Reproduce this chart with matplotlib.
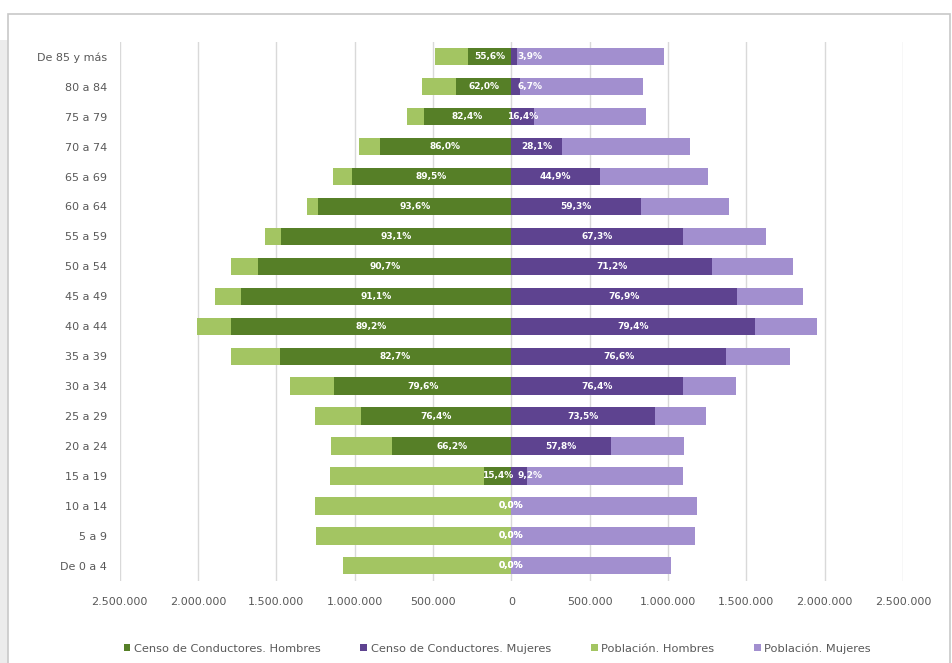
import matplotlib.pyplot as plt
from matplotlib.patches import Rectangle
from matplotlib.ticker import FuncFormatter


# Age groups, top to bottom as in the chart
grupos = [
    "De 85 y más", "80 a 84", "75 a 79", "70 a 74", "65 a 69", "60 a 64",
    "55 a 59", "50 a 54", "45 a 49", "40 a 44", "35 a 39", "30 a 34",
    "25 a 29", "20 a 24", "15 a 19", "10 a 14", "5 a 9", "De 0 a 4"
]

# Values (persons)
poblacion_hombres = [488000, 570000, 667000, 973000, 1140000, 1306000,
                     1570000, 1787000, 1891000, 2004000, 1787000, 1411000,
                     1252000, 1151000, 1155000, 1252000, 1248000, 1074000]
conductores_hombres = [279000, 353000, 558000, 841000, 1019000, 1233000,
                       1469000, 1616000, 1725000, 1791000, 1477000, 1132000,
                       957000, 760000, 174000, 0, 0, 0]
poblacion_mujeres = [973000, 841000, 857000, 1143000, 1256000, 1391000,
                     1624000, 1798000, 1864000, 1953000, 1779000, 1434000,
                     1240000, 1105000, 1097000, 1186000, 1171000, 1019000]
conductores_mujeres = [38000, 57000, 147000, 322000, 566000, 826000,
                       1093000, 1283000, 1438000, 1558000, 1368000, 1097000,
                       915000, 636000, 101000, 0, 0, 0]

etiquetas_hombres = ["55,6%", "62,0%", "82,4%", "86,0%", "89,5%", "93,6%",
                     "93,1%", "90,7%", "91,1%", "89,2%", "82,7%", "79,6%",
                     "76,4%", "66,2%", "15,4%", "0,0%", "0,0%", "0,0%"]
etiquetas_mujeres = ["3,9%", "6,7%", "16,4%", "28,1%", "44,9%", "59,3%",
                     "67,3%", "71,2%", "76,9%", "79,4%", "76,6%", "76,4%",
                     "73,5%", "57,8%", "9,2%", "0,0%", "0,0%", "0,0%"]

ticks_x = [-2500000, -2000000, -1500000, -1000000, -500000, 0,
           500000, 1000000, 1500000, 2000000, 2500000]

VERDE_CLARO = "#a3c562"
VERDE_OSCURO = "#567f27"
MORADO_CLARO = "#a28fcf"
MORADO_OSCURO = "#5e4390"


def miles(v, pos):
    return f"{abs(int(v)):,}".replace(",", ".")


def main():

    fig = plt.figure(figsize=(9.52, 6.63), dpi=100)
    ax = fig.add_axes([0.1256, 0.124, 0.823, 0.813])

    n = len(grupos)
    y = [n - 1 - i for i in range(n)]
    alto = 0.58

    # Population bars behind, driver census on top
    ax.barh(y, [-v for v in poblacion_hombres], height=alto,
            color=VERDE_CLARO, zorder=2, label="Población. Hombres")
    ax.barh(y, poblacion_mujeres, height=alto,
            color=MORADO_CLARO, zorder=2, label="Población. Mujeres")
    ax.barh(y, [-v for v in conductores_hombres], height=alto,
            color=VERDE_OSCURO, zorder=3,
            label="Censo de Conductores. Hombres")
    ax.barh(y, conductores_mujeres, height=alto,
            color=MORADO_OSCURO, zorder=3,
            label="Censo de Conductores. Mujeres")

    # Percent labels
    for yi, ch, cm, th, tm in zip(y, conductores_hombres, conductores_mujeres,
                                  etiquetas_hombres, etiquetas_mujeres):
        ax.text(-ch / 2, yi, th, ha="center", va="center", color="white",
                fontsize=6.5, fontweight="bold", zorder=5)
        if 0 < cm < 120000:
            ax.text(40000, yi, tm, ha="left", va="center", color="white",
                    fontsize=6.5, fontweight="bold", zorder=5)
        else:
            ax.text(cm / 2, yi, tm, ha="center", va="center", color="white",
                    fontsize=6.5, fontweight="bold", zorder=5)

    ax.set_xlim(-2500000, 2500000)
    ax.set_ylim(-0.5, n - 0.5)
    ax.set_xticks(ticks_x)
    ax.xaxis.set_major_formatter(FuncFormatter(miles))
    ax.set_yticks(y)
    ax.set_yticklabels(grupos)
    ax.tick_params(length=0, labelsize=8, colors="#595959")
    ax.tick_params(axis="x", pad=12)
    ax.tick_params(axis="y", pad=9)

    ax.grid(axis="x", color="#d9d9d9", linewidth=1, zorder=0)
    ax.set_axisbelow(True)
    for s in ax.spines.values():
        s.set_visible(False)

    handles, labels = ax.get_legend_handles_labels()
    orden = [2, 3, 0, 1]
    ax.legend([handles[i] for i in orden], [labels[i] for i in orden],
              loc="upper center", bbox_to_anchor=(0.482, -0.097), ncol=4,
              frameon=False, fontsize=8.2, handlelength=0.6,
              handleheight=0.6, handletextpad=0.3, columnspacing=3.5,
              labelcolor="#595959")

    # Chart frame and the grey strip at the left edge
    fig.patches.append(Rectangle((0, 0), 0.0084, 0.94, transform=fig.transFigure,
                                 facecolor="#ececec", edgecolor="none"))
    fig.patches.append(Rectangle((0.0084, -0.01), 0.99, 0.989,
                                 transform=fig.transFigure, fill=False,
                                 edgecolor="#c8c8c8", linewidth=1.2))

    fig.savefig("out.png", dpi=100)


if __name__ == "__main__":
    main()
